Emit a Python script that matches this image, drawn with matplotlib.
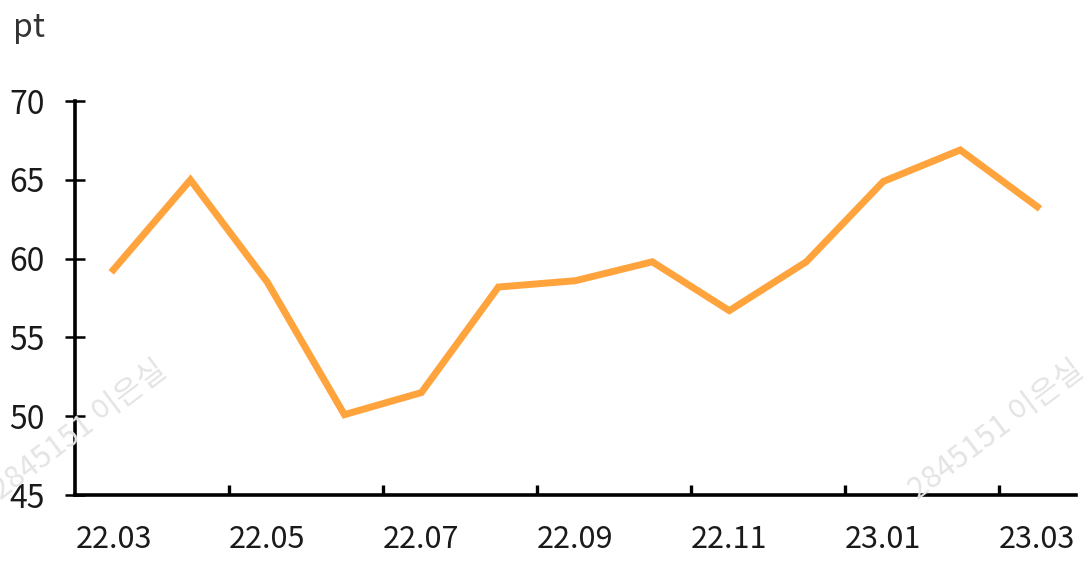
import matplotlib
matplotlib.use('Agg')
import matplotlib.pyplot as plt
from matplotlib.ticker import FixedLocator, NullFormatter

plt.rcParams['font.family'] = ['Noto Sans CJK KR', 'DejaVu Sans']

# monthly index values (pt)
months = ['22.03', '22.04', '22.05', '22.06', '22.07', '22.08', '22.09',
          '22.10', '22.11', '22.12', '23.01', '23.02', '23.03']
values = [59.3, 65.0, 58.5, 50.1, 51.5, 58.2, 58.6, 59.8, 56.7, 59.8, 64.9, 66.9, 63.3]
yticks = [45, 50, 55, 60, 65, 70]
watermark = '2845151 이은실'

fig = plt.figure(figsize=(10.91, 5.68), dpi=100)
ax = fig.add_axes([0.0687, 0.1285, 0.9173, 0.6935])

x = list(range(len(months)))
ax.plot(x, values, color='#FFA33C', lw=5, solid_capstyle='projecting',
        solid_joinstyle='miter', zorder=3)

ax.set_xlim(-0.5, len(months) - 0.5)
ax.set_ylim(45, 70)

for s in ['top', 'right']:
    ax.spines[s].set_visible(False)
ax.spines['left'].set_linewidth(2.6)
ax.spines['bottom'].set_linewidth(2.6)

# labels every other month, tick marks at category boundaries
ax.xaxis.set_major_locator(FixedLocator([1.5, 3.5, 5.5, 7.5, 9.5, 11.5]))
ax.xaxis.set_major_formatter(NullFormatter())
ax.xaxis.set_minor_locator(FixedLocator(x[::2]))
ax.set_xticklabels(months[::2], minor=True)
ax.tick_params(axis='x', which='major', direction='in', length=7, width=2.4)
ax.tick_params(axis='x', which='minor', length=0, pad=21, labelsize=22, labelcolor='#1a1a1a')

ax.set_yticks(yticks)
ax.tick_params(axis='y', direction='inout', length=15, width=1.8, pad=14,
               labelsize=23, labelcolor='#1a1a1a')

fig.text(0.012, 0.935, 'pt', fontsize=23, color='#333333')

# watermarks
for cx in [80, 997]:
    fig.text(cx / 1091, 1 - 430 / 568, watermark, fontsize=22, color='#e4e4e4',
             rotation=37, ha='center', va='center', zorder=0)

plt.savefig('out.png', dpi=100)
